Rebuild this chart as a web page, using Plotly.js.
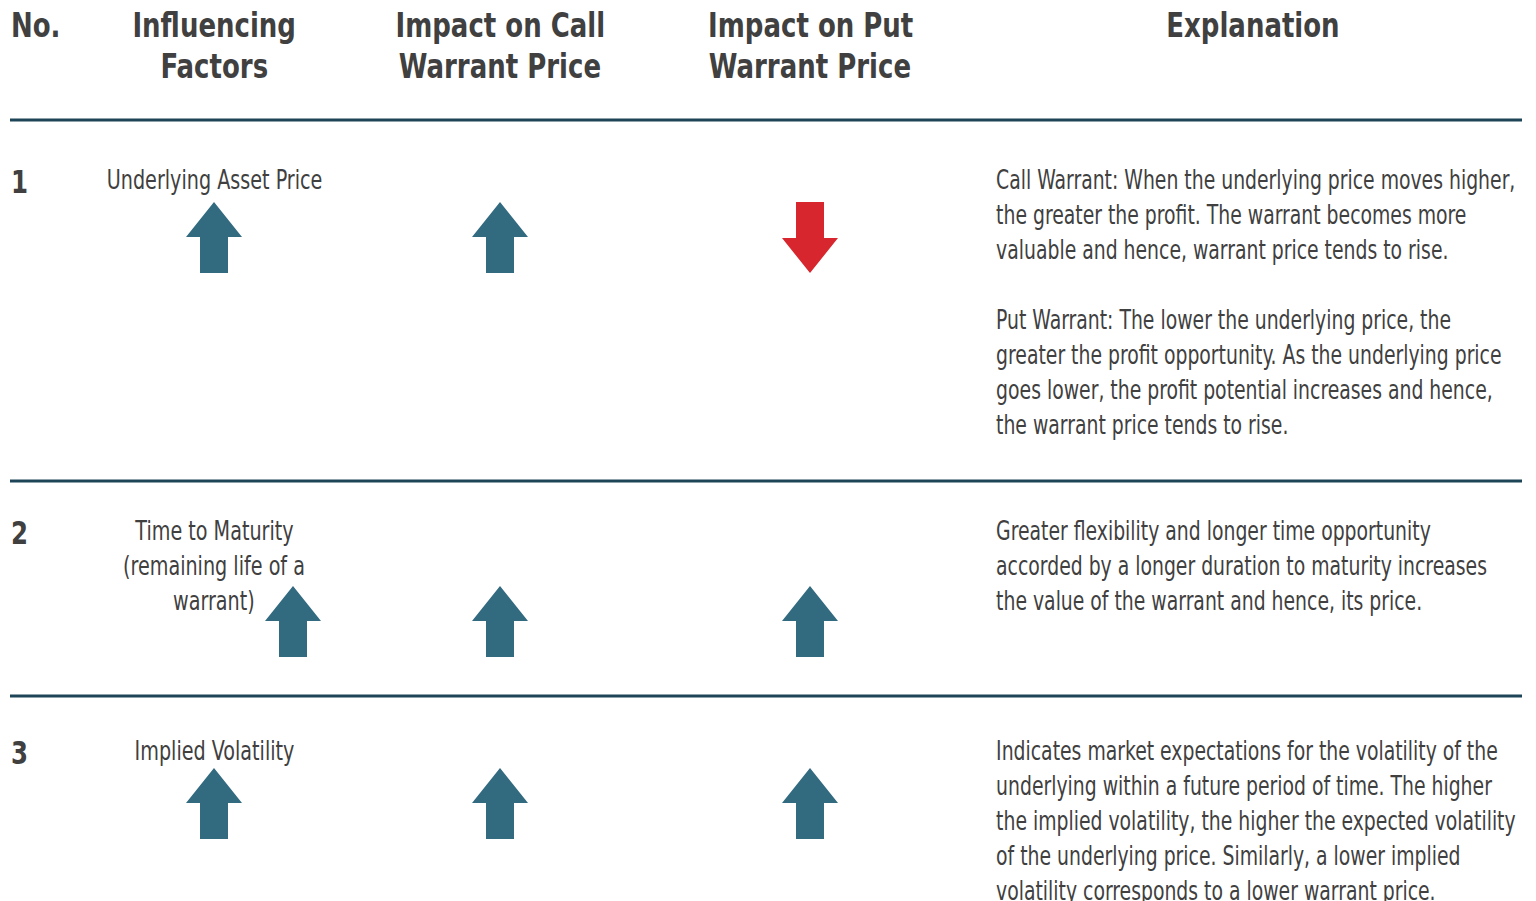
<!DOCTYPE html>
<html><head><meta charset="utf-8">
<script src="https://cdn.plot.ly/plotly-3.0.1.min.js"></script>
<style>html,body{margin:0;padding:0;background:#fff;}#chart{width:1536px;height:901px;}</style>
</head><body><div id="chart"></div>
<script>
// ---- data ----
const headers = ["No.", "Influencing\nFactors", "Impact on Call\nWarrant Price", "Impact on Put\nWarrant Price", "Explanation"];
const rowNumbers = ["1", "2", "3"];
const factors = ["Underlying Asset Price", "Time to Maturity\n(remaining life of a\nwarrant)", "Implied Volatility"];
const factorImpact = ["up", "up", "up"];
const callImpact = ["up", "up", "up"];
const putImpact = ["down", "up", "up"];
const explanations = [
  "Call Warrant: When the underlying price moves higher,\nthe greater the profit. The warrant becomes more\nvaluable and hence, warrant price tends to rise.\n\nPut Warrant: The lower the underlying price, the\ngreater the profit opportunity. As the underlying price\ngoes lower, the profit potential increases and hence,\nthe warrant price tends to rise.",
  "Greater flexibility and longer time opportunity\naccorded by a longer duration to maturity increases\nthe value of the warrant and hence, its price.",
  "Indicates market expectations for the volatility of the\nunderlying within a future period of time. The higher\nthe implied volatility, the higher the expected volatility\nof the underlying price. Similarly, a lower implied\nvolatility corresponds to a lower warrant price."
];

// ---- layout constants ----
const FONT = "'Liberation Sans Narrow', 'DejaVu Sans Condensed', 'Roboto', sans-serif";
const TXT = "#404040";
const TEAL = "#326a80";
const RED = "#d7262e";
const LINE = "#1d4457";
const colX = {no: 10, factor: 214, call: 500, put: 810, expl: 995, explCenter: 1253};
const rowTextY = [180, 531, 751];
const rowArrowTop = [202, 586, 768];
const factorArrowX = [214, 293, 214];
const headerY = 25, headerLH = 41, bodyLH = 35;
const ruleY = [120, 481, 696];

const annotations = [];
const squeeze = [];
function addLines(text, x, y0, lh, anchor, size, bold, sx) {
  text.split("\n").forEach((ln, i) => {
    if (!ln) return;
    annotations.push({
      x: x, y: y0 + i * lh, xref: "x", yref: "y", text: bold ? "<b>" + ln + "</b>" : ln,
      showarrow: false, xanchor: anchor, yanchor: "middle", borderpad: 0,
      font: {family: FONT, size: size, color: TXT}
    });
    squeeze.push({sx: sx, origin: anchor});
  });
}
addLines(headers[0], colX.no, headerY, headerLH, "left", 34, true, 0.85);
addLines(headers[1], colX.factor, headerY, headerLH, "center", 34, true, 0.85);
addLines(headers[2], colX.call, headerY, headerLH, "center", 34, true, 0.85);
addLines(headers[3], colX.put, headerY, headerLH, "center", 34, true, 0.85);
addLines(headers[4], colX.explCenter, headerY, headerLH, "center", 34, true, 0.85);

rowNumbers.forEach((n, i) => {
  addLines(n, colX.no, rowTextY[i] + 2, bodyLH, "left", 32, true, 0.85);
  addLines(factors[i], colX.factor, rowTextY[i], bodyLH, "center", 26, false, 0.82);
  addLines(explanations[i], colX.expl, rowTextY[i], bodyLH, "left", 26, false, 0.805);
});

// arrows as filled polygons
const traces = [];
function arrow(cx, top, dir) {
  const hw = 28, sw = 14, headH = 35, total = 71;
  let xs, ys;
  if (dir === "up") {
    const hb = top + headH, bot = top + total;
    xs = [cx, cx + hw, cx + sw, cx + sw, cx - sw, cx - sw, cx - hw, cx];
    ys = [top, hb, hb, bot, bot, hb, hb, top];
  } else {
    const hb = top + (total - headH), tip = top + total;
    xs = [cx - sw, cx + sw, cx + sw, cx + hw, cx, cx - hw, cx - sw, cx - sw];
    ys = [top, top, hb, hb, tip, hb, hb, top];
  }
  traces.push({
    type: "scatter", mode: "lines", x: xs, y: ys, fill: "toself",
    fillcolor: dir === "up" ? TEAL : RED, line: {width: 0, color: dir === "up" ? TEAL : RED},
    hoverinfo: "skip", showlegend: false
  });
}
rowNumbers.forEach((n, i) => {
  arrow(factorArrowX[i], rowArrowTop[i], factorImpact[i]);
  arrow(colX.call, rowArrowTop[i], callImpact[i]);
  arrow(colX.put, rowArrowTop[i], putImpact[i]);
});

const shapes = ruleY.map(y => ({
  type: "line", xref: "x", yref: "y", x0: 10, x1: 1522, y0: y, y1: y,
  line: {color: LINE, width: 3}
}));

const layout = {
  width: 1536, height: 901,
  margin: {l: 0, r: 0, t: 0, b: 0},
  paper_bgcolor: "#ffffff", plot_bgcolor: "#ffffff",
  xaxis: {range: [0, 1536], visible: false, fixedrange: true},
  yaxis: {range: [901, 0], visible: false, fixedrange: true},
  annotations: annotations, shapes: shapes, showlegend: false
};
Plotly.newPlot("chart", traces, layout, {displayModeBar: false, staticPlot: true}).then(gd => {
  // narrow the text horizontally to mimic the condensed typeface of the original
  squeeze.forEach((s, i) => {
    const t = gd.querySelector('.annotation[data-index="' + i + '"] text.annotation-text');
    if (!t) return;
    t.style.transformBox = "fill-box";
    t.style.transformOrigin = s.origin === "left" ? "left center" : "center center";
    t.style.transform = "scaleX(" + s.sx + ")";
  });
});
</script></body></html>
